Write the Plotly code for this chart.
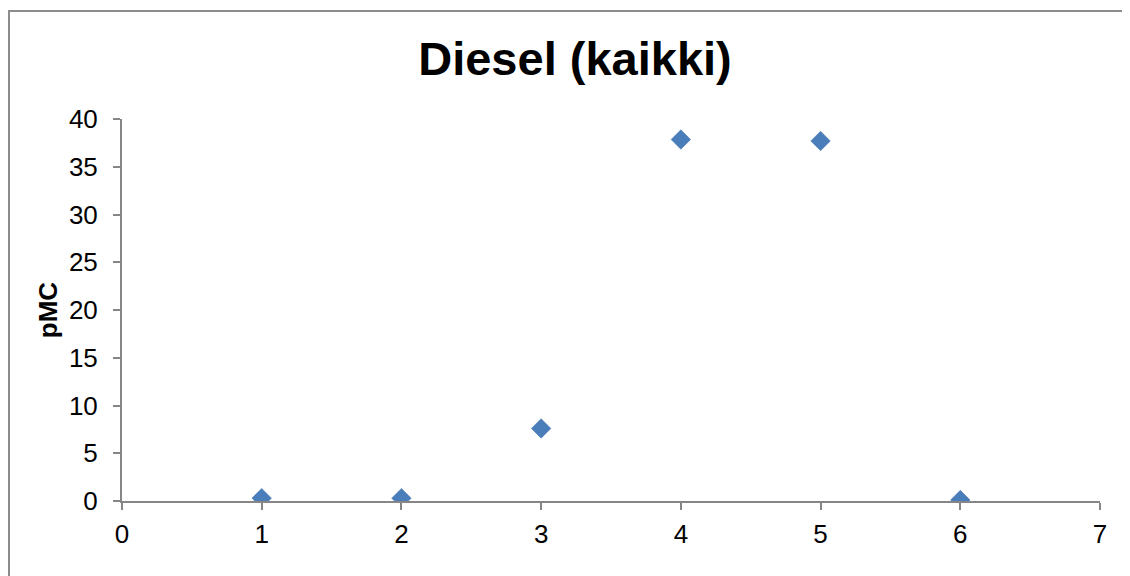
import plotly.graph_objects as go

x_vals = [1, 2, 3, 4, 5, 6]
pmc_vals = [0.3, 0.3, 7.6, 37.85, 37.7, 0.1]
title_text = "Diesel (kaikki)"
y_title = "pMC"

# page body has an 8px margin, so positions are expressed in figure coords
OFF = 8
W, H = 1130, 576
L, T = 122 - OFF, 119 - OFF
R = W - (1100 - OFF)
B = H - (501 - OFF)
pw = W - L - R
ph = H - T - B

fig = go.Figure()
fig.add_trace(go.Scatter(
    x=x_vals, y=pmc_vals, mode="markers",
    marker=dict(symbol="diamond", size=15, color="#4A7EBB",
                line=dict(width=0.5, color="#3F6FA8")),
    showlegend=False,
))

axis_col = "#868686"
font = "Liberation Sans, Arial, sans-serif"

fig.update_layout(
    width=W, height=H,
    margin=dict(l=L, r=R, t=T, b=B),
    paper_bgcolor="white", plot_bgcolor="white",
    font=dict(family=font, color="black", size=26),
    title=dict(text="<b>" + title_text + "</b>", x=(575 - OFF) / W, xanchor="center",
               y=1 - (59 - OFF) / H, yanchor="middle", yref="container",
               font=dict(size=47, family=font, color="black")),
    xaxis=dict(range=[0, 7], tickvals=list(range(0, 8)), showgrid=False,
               zeroline=False, showline=True, linecolor=axis_col, linewidth=2,
               ticks="outside", ticklen=7, tickwidth=2, tickcolor=axis_col,
               ticklabelstandoff=2,
               tickfont=dict(size=26, color="black")),
    yaxis=dict(range=[0, 40], tickvals=list(range(0, 41, 5)), showgrid=False,
               zeroline=False, showline=True, linecolor=axis_col, linewidth=2,
               ticks="outside", ticklen=7, tickwidth=2, tickcolor=axis_col,
               ticklabelstandoff=10,
               tickfont=dict(size=26, color="black"),
               title=dict(text="<b>" + y_title + "</b>", standoff=4,
                          font=dict(size=26, color="black"))),
    shapes=[dict(type="rect", xref="paper", yref="paper",
                 x0=(1 - L) / pw, x1=(W + 20 - L) / pw,
                 y0=-(H + 20 - (T + ph)) / ph, y1=(T + ph - 3) / ph,
                 line=dict(color="#8C8C8C", width=2), layer="below")],
)

fig.write_html("out.html")
